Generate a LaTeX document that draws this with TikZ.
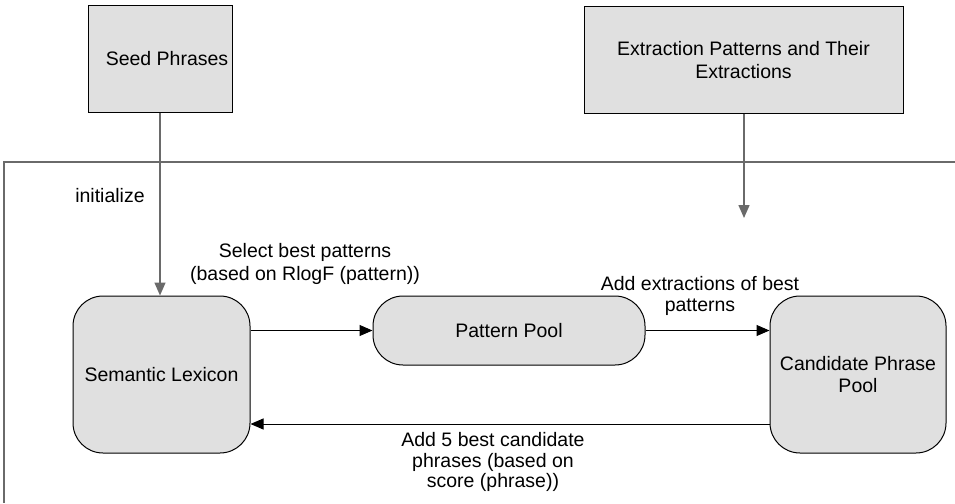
\documentclass[tikz,border=0pt]{standalone}
\usepackage{fontspec}
\setmainfont{Liberation Sans}
\usetikzlibrary{arrows.meta}
\definecolor{boxfill}{HTML}{E0E0E0}
\definecolor{frameg}{HTML}{6A6A6A}
\begin{document}
\begin{tikzpicture}[x=1pt,y=-1pt,
  every node/.style={font=\fontsize{19.5}{21.5}\selectfont, align=center, inner sep=0pt},
  srcbox/.style={draw=black, line width=1pt, fill=boxfill},
  poolbox/.style={draw=black, line width=1pt, fill=boxfill, rounded corners=30pt},
  arr/.style={line width=1pt, -{Triangle[length=13pt,width=11pt]}},
  garr/.style={arr, draw=frameg, line width=1.5pt},
  lbl/.style={}]
\useasboundingbox (0,0) rectangle (955,503);
% frame
\draw[frameg, line width=1.5pt] (955,162) -- (4,162) -- (4,503);
% source boxes
\node[srcbox, minimum width=144pt, minimum height=106pt] (seed) at (160,59) {\hspace*{14pt}Seed Phrases};
\node[srcbox, minimum width=319pt, minimum height=106pt, font=\fontsize{19.5}{23}\selectfont] (ext) at (743.5,60) {\raisebox{2pt}{\parbox{300pt}{\centering Extraction Patterns and Their\\Extractions}}};
% pools
\node[poolbox, minimum width=177pt, minimum height=157pt] (sl) at (161.5,374.5) {Semantic Lexicon};
\node[poolbox, minimum width=272pt, minimum height=69pt] (pp) at (509,330.5) {Pattern Pool};
\node[poolbox, minimum width=176pt, minimum height=157pt] (cpp) at (858,374.5) {\raisebox{3pt}{\parbox{170pt}{\centering Candidate Phrase\\Pool}}};
% connectors
\draw[garr] (seed.south) -- (seed.south |- sl.north);
\coordinate (extend) at (744,218);
\draw[garr] (ext.south -| extend) -- (extend);
\draw[arr] (sl.east |- pp.west) -- (pp.west);
\draw[arr] (pp.east) -- (pp.east -| cpp.west);
\coordinate (back) at (500,424);
\draw[arr] (cpp.west |- back) -- (sl.east |- back);
% labels
\node[lbl] (linit) at (110,196) {initialize};
\node[lbl, font=\fontsize{19.5}{23}\selectfont] (lsel) at (305,264) {Select best patterns\\(based on RlogF (pattern))};
\node[lbl] (ladd) at (700,296) {Add extractions of best\\patterns};
\node[lbl, font=\fontsize{19.5}{20.5}\selectfont] (lback) at (493,462) {Add 5 best candidate\\phrases (based on\\score (phrase))};
\end{tikzpicture}
\end{document}
